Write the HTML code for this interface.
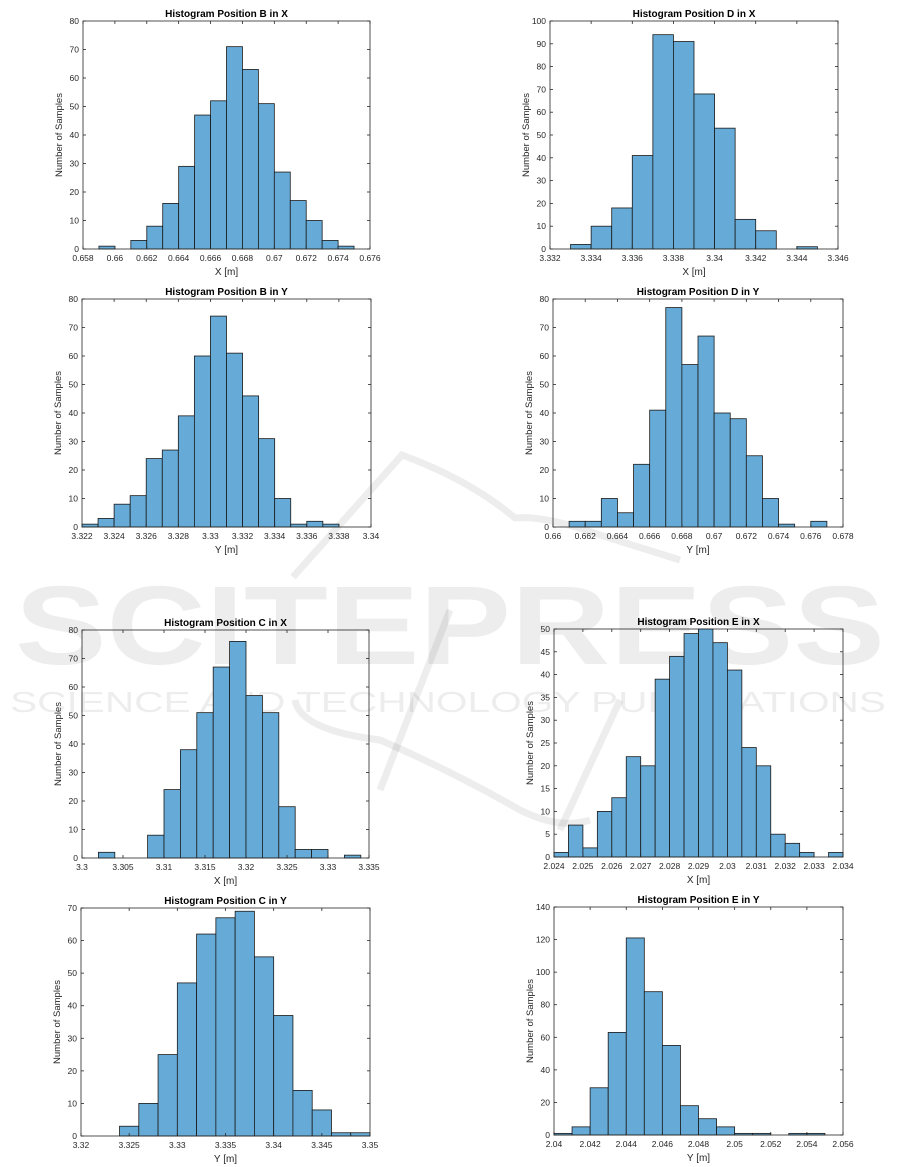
<!DOCTYPE html>
<html><head><meta charset="utf-8"><style>
html,body{margin:0;padding:0;background:#fff;}
svg{display:block;font-family:"Liberation Sans",Arial,sans-serif;}
</style></head><body>
<svg id="s" width="901" height="1167" xmlns="http://www.w3.org/2000/svg"></svg>
<script>
const P=[
 {t:"Histogram Position B in X",xl:"X [m]",L:83,R:370,T:21,B:249,x0:0.658,x1:0.676,xs:0.002,dec:3,ym:80,ys:10,b0:0.659,w:0.001,d:[1,0,3,8,16,29,47,52,71,63,51,27,17,10,3,1]},
 {t:"Histogram Position D in X",xl:"X [m]",L:550,R:838,T:21,B:249,x0:3.332,x1:3.346,xs:0.002,dec:3,ym:100,ys:10,b0:3.333,w:0.001,d:[2,10,18,41,94,91,68,53,13,8,0,1]},
 {t:"Histogram Position B in Y",xl:"Y [m]",L:82,R:371,T:299,B:527,x0:3.322,x1:3.34,xs:0.002,dec:3,ym:80,ys:10,b0:3.322,w:0.001,d:[1,3,8,11,24,27,39,60,74,61,46,31,10,1,2,1]},
 {t:"Histogram Position D in Y",xl:"Y [m]",L:553,R:843,T:299,B:527,x0:0.66,x1:0.678,xs:0.002,dec:3,ym:80,ys:10,b0:0.661,w:0.001,d:[2,2,10,5,22,41,77,57,67,40,38,25,10,1,0,2]},
 {t:"Histogram Position C in X",xl:"X [m]",L:82,R:369,T:630,B:858,x0:3.3,x1:3.335,xs:0.005,dec:3,ym:80,ys:10,b0:3.302,w:0.002,d:[2,0,0,8,24,38,51,67,76,57,51,18,3,3,0,1]},
 {t:"Histogram Position E in X",xl:"X [m]",L:554,R:843,T:629,B:857,x0:2.024,x1:2.034,xs:0.001,dec:3,ym:50,ys:5,b0:2.024,w:0.0005,d:[1,7,2,10,13,22,20,39,44,49,50,47,41,24,20,5,3,1,0,1]},
 {t:"Histogram Position C in Y",xl:"Y [m]",L:81,R:370,T:908,B:1136,x0:3.32,x1:3.35,xs:0.005,dec:3,ym:70,ys:10,b0:3.324,w:0.002,d:[3,10,25,47,62,67,69,55,37,14,8,1,1]},
 {t:"Histogram Position E in Y",xl:"Y [m]",L:554,R:843,T:907,B:1135,x0:2.04,x1:2.056,xs:0.002,dec:3,ym:140,ys:20,b0:2.04,w:0.001,d:[1,5,29,63,121,88,55,18,10,5,1,1,0,1,1]}
];
let h="";
// watermark behind
h+=`<g fill="rgba(0,0,0,0.07)" stroke="none">
<text x="450" y="664" font-size="112" font-weight="bold" text-anchor="middle" textLength="870" lengthAdjust="spacingAndGlyphs">SCITEPRESS</text>
<text x="448" y="712" font-size="29" text-anchor="middle" textLength="876" lengthAdjust="spacingAndGlyphs">SCIENCE AND TECHNOLOGY PUBLICATIONS</text>
</g>
<g fill="none" stroke="rgba(0,0,0,0.07)" stroke-width="7">
<path d="M293,577 L402,455 Q470,480 515,518 Q545,515 600,535 L680,560"/>
<path d="M295,700 Q300,730 380,740 Q450,770 520,810 Q560,830 590,820"/>
<path d="M380,790 L450,610"/>
<path d="M560,830 L620,700"/>
</g>`;
function fmt(v,dec){return String(parseFloat(v.toFixed(dec)));}
for(const p of P){
 const W=p.R-p.L,H=p.B-p.T;
 const X=v=>p.L+(v-p.x0)/(p.x1-p.x0)*W, Y=v=>p.B-v/p.ym*H;
 p.d.forEach((c,i)=>{const a=X(p.b0+i*p.w),b=X(p.b0+(i+1)*p.w);
  h+=`<rect x="${a.toFixed(2)}" y="${Y(c).toFixed(2)}" width="${(b-a).toFixed(2)}" height="${(p.B-Y(c)).toFixed(2)}" fill="#66abd7" stroke="#1a1a1a" stroke-width="0.8"/>`;});
 h+=`<rect x="${p.L}" y="${p.T}" width="${W}" height="${H}" fill="none" stroke="#262626" stroke-width="0.8"/>`;
 const nx=Math.round((p.x1-p.x0)/p.xs);
 for(let i=0;i<=nx;i++){const v=p.x0+i*p.xs,x=X(v);
  h+=`<line x1="${x}" y1="${p.B}" x2="${x}" y2="${p.B-3}" stroke="#262626" stroke-width="0.8"/><line x1="${x}" y1="${p.T}" x2="${x}" y2="${p.T+3}" stroke="#262626" stroke-width="0.8"/>`;
  h+=`<text x="${x}" y="${p.B+12}" font-size="8.5" fill="#262626" text-anchor="middle">${fmt(v,p.dec+1)}</text>`;}
 for(let v=0;v<=p.ym;v+=p.ys){const y=Y(v);
  h+=`<line x1="${p.L}" y1="${y}" x2="${p.L+3}" y2="${y}" stroke="#262626" stroke-width="0.8"/><line x1="${p.R}" y1="${y}" x2="${p.R-3}" y2="${y}" stroke="#262626" stroke-width="0.8"/>`;
  h+=`<text x="${p.L-4}" y="${y+3}" font-size="8.5" fill="#262626" text-anchor="end">${v}</text>`;}
 h+=`<text x="${(p.L+p.R)/2}" y="${p.T-4}" font-size="10" font-weight="bold" fill="#000" text-anchor="middle">${p.t}</text>`;
 h+=`<text x="${(p.L+p.R)/2}" y="${p.B+26}" font-size="10" fill="#262626" text-anchor="middle">${p.xl}</text>`;
 const cy=(p.T+p.B)/2, lx=p.L-21;
 h+=`<text x="${lx}" y="${cy}" font-size="9.5" fill="#262626" text-anchor="middle" transform="rotate(-90 ${lx} ${cy})">Number of Samples</text>`;
}
document.getElementById("s").innerHTML=h;
</script>
</body></html>
